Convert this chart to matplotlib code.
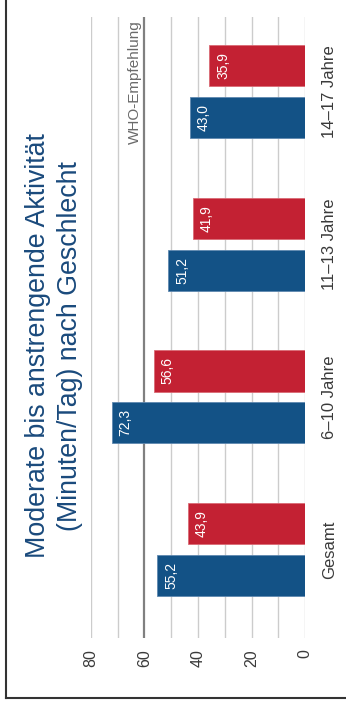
import matplotlib
matplotlib.use("Agg")
import matplotlib.pyplot as plt
from matplotlib.lines import Line2D
import numpy as np

plt.rcParams['font.family'] = ['Liberation Sans', 'DejaVu Sans']

# Data
categories = ["Gesamt", "6\u201310 Jahre", "11\u201313 Jahre", "14\u201317 Jahre"]
jungen = [55.2, 72.3, 51.2, 43.0]
maedchen = [43.9, 56.6, 41.9, 35.9]
value_ticks = [0, 20, 40, 60, 80]
who_value = 60
title = "Moderate bis anstrengende Aktivität\n(Minuten/Tag) nach Geschlecht"

BLUE = "#135286"
RED = "#C32133"
TEXT = "#3a3a3a"

W, H = 346, 707
fig = plt.figure(figsize=(W / 100, H / 100), dpi=100)
ax = fig.add_axes([91 / W, 1 - 638 / H, (305 - 91) / W, (638 - 17) / H])

idx = np.arange(len(categories))
bw = 0.27
off = 0.17
ax.barh(idx - off, jungen, height=bw, color=BLUE, edgecolor="#5f88b0", linewidth=0.6, zorder=3)
ax.barh(idx + off, maedchen, height=bw, color=RED, edgecolor="#d96a75", linewidth=0.6, zorder=3)

# value labels inside bar ends
for yy, vals in ((idx - off, jungen), (idx + off, maedchen)):
    for y, v in zip(yy, vals):
        ax.annotate(f"{v:.1f}".replace(".", ","), xy=(v, y), xytext=(5, 0),
                    textcoords="offset points", ha="left", va="center",
                    rotation=90, color="white", fontsize=10, zorder=4)

ax.set_xlim(80, 0)
ax.set_ylim(-0.58, 3.49)

# grid
for g in range(0, 81, 10):
    if g == who_value:
        continue
    ax.axvline(g, color="#cccccc", lw=1.0, zorder=1)
ax.axvline(who_value, color="#808080", lw=1.6, zorder=2)
ax.annotate("WHO-Empfehlung", xy=(who_value, 3.49), xytext=(-2, -2),
            textcoords="offset points", ha="right", va="top", rotation=90,
            color="#6a6a6a", fontsize=11, zorder=4)

for s in ax.spines.values():
    s.set_visible(False)

ax.set_xticks(value_ticks)
ax.set_xticklabels([str(t) for t in value_ticks], rotation=90, fontsize=11.5, color=TEXT)
ax.tick_params(axis="x", length=0, pad=8)

ax.yaxis.tick_right()
ax.set_yticks(idx)
ax.set_yticklabels(categories, rotation=90, va="center", fontsize=12, color=TEXT)
ax.tick_params(axis="y", length=0, pad=12)

fig.text(54 / W, 1 - 346 / H, title, rotation=90, ha="center", va="center",
         multialignment="center", fontsize=19.3, color="#1a4a7c", linespacing=1.3)

# frame
fig.add_artist(Line2D([6 / W, 6 / W], [1 - 698 / H, 1], transform=fig.transFigure,
                      color="#333333", lw=1.5))
fig.add_artist(Line2D([6 / W, 1], [1 - 698 / H, 1 - 698 / H], transform=fig.transFigure,
                      color="#333333", lw=1.5))

fig.savefig("out.png", dpi=100, facecolor="white")
